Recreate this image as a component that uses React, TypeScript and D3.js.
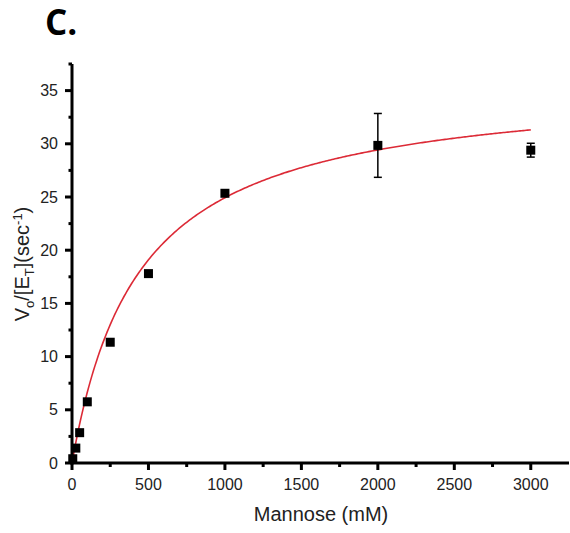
import React from "react";
import * as d3 from "d3";

const substrate = [5, 25, 50, 100, 250, 500, 1000, 2000, 3000];
const velocity = [0.4, 1.4, 2.85, 5.75, 11.35, 17.8, 25.35, 29.85, 29.4];
const errors = [0, 0, 0, 0, 0, 0, 0, 3.0, 0.65];
const xTicks = [0, 500, 1000, 1500, 2000, 2500, 3000];
const yTicks = [0, 5, 10, 15, 20, 25, 30, 35];
const vmax = 35.9;
const km = 440;

const W = 570, H = 533;
const x = d3.scaleLinear().domain([0, 3250]).range([72, 569]);
const y = d3.scaleLinear().domain([0, 37.5]).range([463, 64]);

export default function App() {
  const fitX = d3.range(0, 3001, 10);
  const line = d3.line<number>().x((s) => x(s)).y((s) => y((vmax * s) / (km + s)));
  const xMinor = d3.range(250, 3250, 500);
  const yMinor = d3.range(2.5, 37.6, 5);
  const font = "'Liberation Sans', Arial, sans-serif";
  return (
    <svg width={W} height={H} style={{ position: "absolute", left: 0, top: 0, background: "#fff" }}>
      <text x={45} y={35} fontFamily="'Open Sans', sans-serif" fontWeight="bold" fontSize={35} fill="#000">C.</text>
      {/* fit curve */}
      <path d={line(fitX) || ""} fill="none" stroke="#dc2a36" strokeWidth={1.6} />
      {/* error bars */}
      {substrate.map((s, i) =>
        errors[i] > 0 ? (
          <g key={"e" + i} stroke="#000" strokeWidth={1.5}>
            <line x1={x(s)} x2={x(s)} y1={y(velocity[i] - errors[i])} y2={y(velocity[i] + errors[i])} />
            <line x1={x(s) - 4} x2={x(s) + 4} y1={y(velocity[i] - errors[i])} y2={y(velocity[i] - errors[i])} />
            <line x1={x(s) - 4} x2={x(s) + 4} y1={y(velocity[i] + errors[i])} y2={y(velocity[i] + errors[i])} />
          </g>
        ) : null
      )}
      {/* points */}
      {substrate.map((s, i) => (
        <rect key={"p" + i} x={x(s) - 4.5} y={y(velocity[i]) - 4.5} width={9} height={9} fill="#000" />
      ))}
      {/* axes */}
      <g stroke="#000">
        <line x1={70.5} x2={569} y1={463} y2={463} strokeWidth={3} />
        {xTicks.map((t) => (
          <line key={"xt" + t} x1={x(t)} x2={x(t)} y1={463} y2={470} strokeWidth={3} />
        ))}
        {xMinor.map((t) => (
          <line key={"xm" + t} x1={x(t)} x2={x(t)} y1={463} y2={467} strokeWidth={3} />
        ))}
        <line x1={72} x2={72} y1={64} y2={464.5} strokeWidth={3} />
        {yTicks.map((t) => (
          <line key={"yt" + t} x1={65} x2={72} y1={y(t)} y2={y(t)} strokeWidth={3} />
        ))}
        {yMinor.map((t) => (
          <line key={"ym" + t} x1={68.5} x2={72} y1={y(t)} y2={y(t)} strokeWidth={3} />
        ))}
      </g>
      <g fontFamily={font} fontSize={16} fill="#222">
        {xTicks.map((t) => (
          <text key={"xl" + t} x={x(t)} y={490} textAnchor="middle">{t}</text>
        ))}
        {yTicks.map((t) => (
          <text key={"yl" + t} x={58} y={y(t)} dy="0.35em" textAnchor="end">{t}</text>
        ))}
      </g>
      <text x={321} y={521} textAnchor="middle" fontFamily={font} fontSize={20} fill="#222">Mannose (mM)</text>
      <text transform="translate(29,264) rotate(-90)" textAnchor="middle" fontFamily={font} fontSize={20} fill="#222">
        V<tspan dy={5} fontSize={13}>o</tspan>
        <tspan dy={-5}>/[E</tspan>
        <tspan dy={5} fontSize={13}>T</tspan>
        <tspan dy={-5}>](sec</tspan>
        <tspan dy={-7} fontSize={13}>-1</tspan>
        <tspan dy={7}>)</tspan>
      </text>
    </svg>
  );
}
